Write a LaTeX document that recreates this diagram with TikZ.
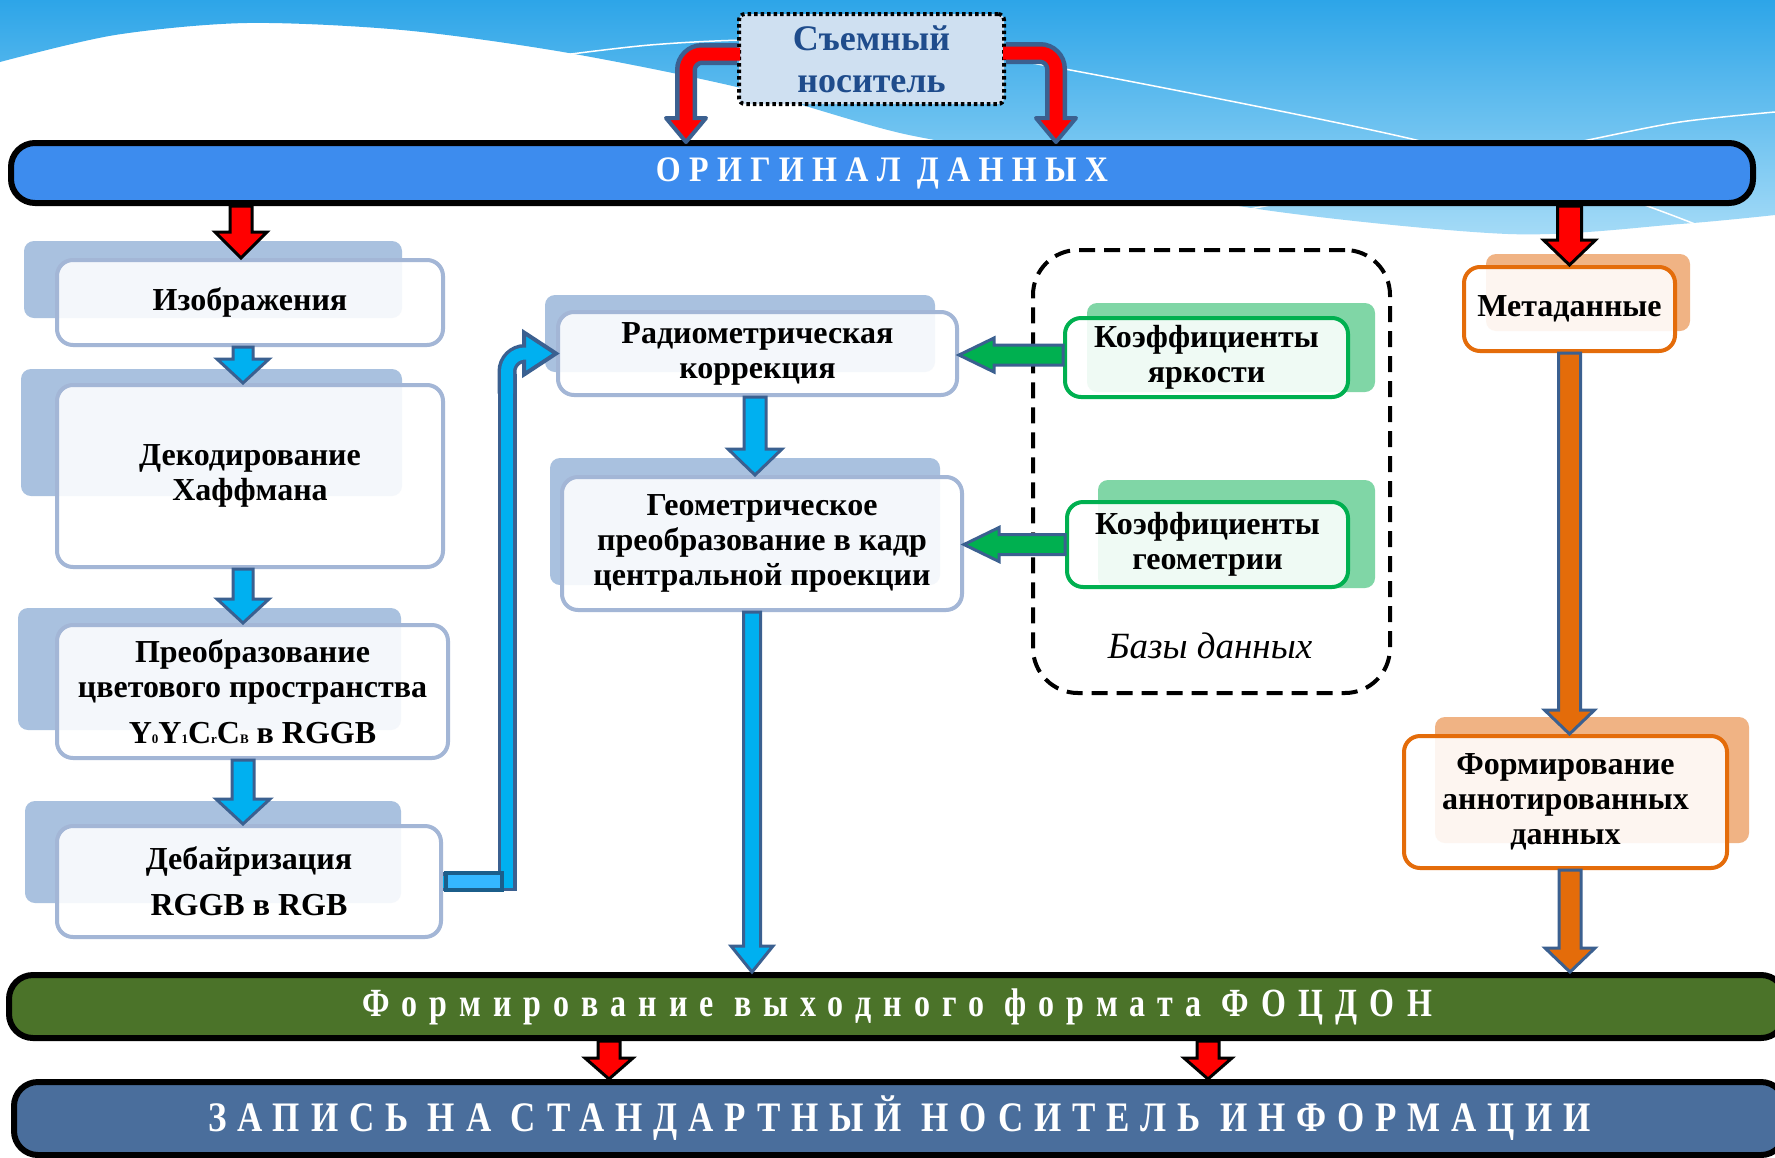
\documentclass[tikz,border=0pt]{standalone}
\usepackage{fontspec}
\usepackage{graphicx}
\setmainfont{Liberation Serif}
\usetikzlibrary{calc}
\definecolor{skytop}{HTML}{2DA5E8}
\definecolor{skybot}{HTML}{A5DBF7}
\definecolor{origfill}{HTML}{3D8CEE}
\definecolor{focfill}{HTML}{4B7329}
\definecolor{zapfill}{HTML}{4A6E9C}
\definecolor{boxblue}{HTML}{A3B6D6}
\definecolor{shblue}{HTML}{A9C1DF}
\definecolor{grn}{HTML}{00B050}
\definecolor{shgrn}{HTML}{80D6A6}
\definecolor{org}{HTML}{E46C0A}
\definecolor{shorg}{HTML}{F0B384}
\definecolor{arrdark}{HTML}{3B6090}
\definecolor{arrblue}{HTML}{00B0F0}
\definecolor{sdfill}{HTML}{CFE0F1}
\definecolor{sdtext}{HTML}{1F4C8C}
\definecolor{lbar}{HTML}{35B7FF}
\definecolor{lbardark}{HTML}{1B5E8A}
\newcommand\boxfont{\fontsize{32}{35}\selectfont\bfseries}
\newcommand\lowidx[1]{{\fontsize{13}{13}\selectfont #1}}
\newcommand\arrowdown[6]{%
 \path[#6] let \p1=(#1), \p2=(#2) in
  (\x1-#3,\y1) -- (\x1+#3,\y1) -- (\x1+#3,\y2+#5) -- (\x1+#4,\y2+#5) -- (\x1,\y2)
  -- (\x1-#4,\y2+#5) -- (\x1-#3,\y2+#5) -- cycle;}
\newcommand\arrowleft[6]{%
 \path[#6] let \p1=(#1), \p2=(#2) in
  (\x1,\y1+#3) -- (\x2+#5,\y1+#3) -- (\x2+#5,\y1+#4) -- (\x2,\y1) -- (\x2+#5,\y1-#4)
  -- (\x2+#5,\y1-#3) -- (\x1,\y1-#3) -- cycle;}
\tikzset{
 bluebox/.style={draw=boxblue, line width=4, fill=white, fill opacity=0.88, text opacity=1, rounded corners=16, align=center, font=\boxfont, inner sep=0},
 greenbox/.style={bluebox, draw=grn},
 orangebox/.style={bluebox, draw=org},
 banner/.style={draw=black, line width=6, rounded corners=24, text=white, inner sep=0},
 redarrow/.style={fill=red, draw=black, line width=3},
 bluearrow/.style={fill=arrblue, draw=arrdark, line width=3},
 orangearrow/.style={fill=org, draw=arrdark, line width=3},
 greenarrow/.style={fill=grn, draw=arrdark, line width=3},
 sdbox/.style={fill=sdfill, draw=black, line width=4, dash pattern=on 3.5pt off 3pt, rounded corners=6, text=sdtext, align=center, font=\fontsize{36}{42}\selectfont\bfseries, inner sep=0},
 dbbox/.style={draw=black, line width=4, dash pattern=on 16pt off 9pt, rounded corners=45}
}
\begin{document}
\begin{tikzpicture}[x=1pt,y=-1pt]
\useasboundingbox (0,0) rectangle (1775,1157);
\clip (0,0) rectangle (1775,1157);
\fill[white] (0,0) rectangle (1775,1157);
% sky
\shade[top color=skytop, bottom color=skybot] (0,0) -- (1775,0) -- (1775,215) -- plot[smooth] coordinates {(1775,215) (1680,224) (1508,234) (1245,207) (1050,160) (900,133) (741,88) (563,52) (402,30) (247,23) (115,35) (0,62)} -- cycle;
\draw[white, line width=1.5] plot[smooth] coordinates {(540,58) (650,45) (760,40) (900,46) (1003,58) (1200,95) (1416,140) (1600,190) (1700,226)};
\draw[white, line width=1.5] plot[smooth] coordinates {(1775,112) (1680,122) (1588,140) (1420,175) (1245,210)};

% removable medium
\node[sdbox, minimum width=265, minimum height=90] (sd) at (871.5,59) {Съемный\\носитель};
\node[banner, fill=origfill, minimum width=1742, minimum height=60] (orig) at (882,173) {\scalebox{1}[1.12]{\fontsize{32}{32}\selectfont\bfseries\addfontfeature{LetterSpace=26}ОРИГИНАЛ ДАННЫХ}};
\coordinate (lt) at (686,142);
\coordinate (rt) at (1056,142);
\draw[line width=22, arrdark, rounded corners=16] ([yshift=5pt]sd.west) -| ([yshift=23pt]lt);
\draw[line width=22, arrdark, rounded corners=16] ([yshift=6pt]sd.east) -| ([yshift=23pt]rt);
\path[fill=red, draw=arrdark, line width=4, line join=round] ([yshift=24pt,xshift=-20pt]lt) -- ([yshift=24pt,xshift=20pt]lt) -- (lt) -- cycle;
\path[fill=red, draw=arrdark, line width=4, line join=round] ([yshift=24pt,xshift=-20pt]rt) -- ([yshift=24pt,xshift=20pt]rt) -- (rt) -- cycle;
\draw[line width=13, red, rounded corners=16] ([yshift=5pt,xshift=3pt]sd.west) -| ([yshift=21pt]lt);
\draw[line width=13, red, rounded corners=16] ([yshift=6pt,xshift=-3pt]sd.east) -| ([yshift=21pt]rt);

% shadows
\fill[shblue, rounded corners=10] (24,241) rectangle (402,318);
\fill[shblue, rounded corners=10] (21,369) rectangle (402,496);
\fill[shblue, rounded corners=10] (18,608) rectangle (401,730);
\fill[shblue, rounded corners=10] (25,801) rectangle (401,903);
\fill[shblue, rounded corners=10] (545,295) rectangle (935,372);
\fill[shblue, rounded corners=10] (550,458) rectangle (940,585);
\fill[shgrn, rounded corners=10] (1087,303) rectangle (1375,392);
\fill[shgrn, rounded corners=10] (1098,480) rectangle (1375,588);
\fill[shorg, rounded corners=10] (1486,254) rectangle (1690,331);
\fill[shorg, rounded corners=10] (1435,717) rectangle (1749,843);

% boxes
\node[bluebox, minimum width=386, minimum height=85] (img) at (250,302.5) {Изображения};
\node[bluebox, minimum width=386, minimum height=182] (dec) at (250,476) {Декодирование\\Хаффмана};
\node[bluebox, minimum width=391, minimum height=133] (conv) at (252.5,691.5) {Преобразование\\цветового пространства\\[11pt]Y\lowidx{0}Y\lowidx{1}C\lowidx{r}C\lowidx{B} в RGGB};
\node[bluebox, minimum width=384, minimum height=111] (deb) at (249,881.5) {Дебайризация\\[11pt]RGGB в RGB};
\node[bluebox, minimum width=399, minimum height=83] (rad) at (757.5,353.5) {Радиометрическая\\коррекция};
\node[bluebox, minimum width=400, minimum height=133] (geo) at (762,543.5) {Геометрическое\\преобразование в кадр\\центральной проекции};
\node[dbbox, minimum width=357, minimum height=443] (db) at (1211.5,471.5) {};
\node[greenbox, minimum width=283, minimum height=79] (kbr) at (1206.5,357.5) {Коэффициенты\\яркости};
\node[greenbox, minimum width=281, minimum height=85] (kgeo) at (1207.5,544.5) {Коэффициенты\\геометрии};
\node[font=\fontsize{37}{40}\selectfont\itshape] (dbl) at (1210,646) {Базы данных};
\node[orangebox, minimum width=211, minimum height=84] (meta) at (1569.5,309) {Метаданные};
\node[orangebox, minimum width=323, minimum height=132] (ann) at (1565.5,802) {Формирование\\аннотированных\\данных};

% bottom banners
\node[banner, fill=focfill, minimum width=1776, minimum height=63] (foc) at (897,1006.5) {\scalebox{1}[1.25]{\fontsize{32}{32}\selectfont\bfseries\addfontfeature{LetterSpace=38}Формирование выходного формата ФОЦДОН}};
\node[banner, fill=zapfill, minimum width=1771, minimum height=73] (zap) at (899.5,1118.5) {\scalebox{1}[1.2]{\fontsize{35}{35}\selectfont\bfseries\addfontfeature{LetterSpace=31}ЗАПИСЬ НА СТАНДАРТНЫЙ НОСИТЕЛЬ ИНФОРМАЦИИ}};

% L-shaped blue arrow
\coordinate (lb) at (507,881.5);
\draw[line width=19, arrdark] (deb.east) -- (lb) -- ($(lb |- rad.west)+(0,20)$);
\draw[line width=19, arrdark, rounded corners=18] ($(lb |- rad.west)+(0,40)$) -- (lb |- rad.west) -- ($(rad.west)+(-31,0)$);
\path[bluearrow, line width=4] let \p1=(rad.west) in (\x1-32,\y1+21) -- (\x1,\y1) -- (\x1-32,\y1-21) -- cycle;
\draw[line width=12, arrblue] (deb.east) -- (lb) -- ($(lb |- rad.west)+(0,20)$);
\draw[line width=12, arrblue, rounded corners=18] ($(lb |- rad.west)+(0,40)$) -- (lb |- rad.west) -- ($(rad.west)+(-29,0)$);
\draw[fill=lbar, draw=lbardark, line width=4] ($(deb.east)+(3,-9)$) rectangle ($(lb)+(-5,8)$);

% straight block arrows
\arrowdown{$(orig.south -| img.north)+(-9,0)$}{img.north}{11pt}{26pt}{26pt}{redarrow}
\arrowdown{$(orig.south -| meta.north)$}{meta.north}{12pt}{26pt}{25pt}{redarrow}
\arrowdown{$(img.south)+(-7,0)$}{dec.north}{10pt}{26pt}{24pt}{bluearrow}
\arrowdown{$(dec.south)+(-7,0)$}{conv.north}{10pt}{26pt}{24pt}{bluearrow}
\arrowdown{$(conv.south)+(-9.5,0)$}{deb.north}{11pt}{27pt}{25pt}{bluearrow}
\arrowdown{$(rad.south)+(-2.5,0)$}{geo.north}{11pt}{27pt}{26pt}{bluearrow}
\arrowdown{$(geo.south)+(-10,0)$}{foc.north}{8.5pt}{21pt}{26pt}{bluearrow}
\arrowdown{meta.south}{ann.north}{11pt}{25pt}{24pt}{orangearrow}
\arrowdown{$(ann.south)+(4.5,0)$}{foc.north}{11pt}{25pt}{24pt}{orangearrow}
\arrowleft{$(kbr.west)+(0,-2.5)$}{rad.east}{10pt}{17pt}{35pt}{greenarrow}
\arrowleft{kgeo.west}{geo.east}{10pt}{17pt}{35pt}{greenarrow}
\arrowdown{$(foc.south)+(-288,0)$}{zap.north}{11pt}{24pt}{21pt}{redarrow}
\arrowdown{$(foc.south)+(311,0)$}{zap.north}{11pt}{24pt}{21pt}{redarrow}
\end{tikzpicture}
\end{document}
